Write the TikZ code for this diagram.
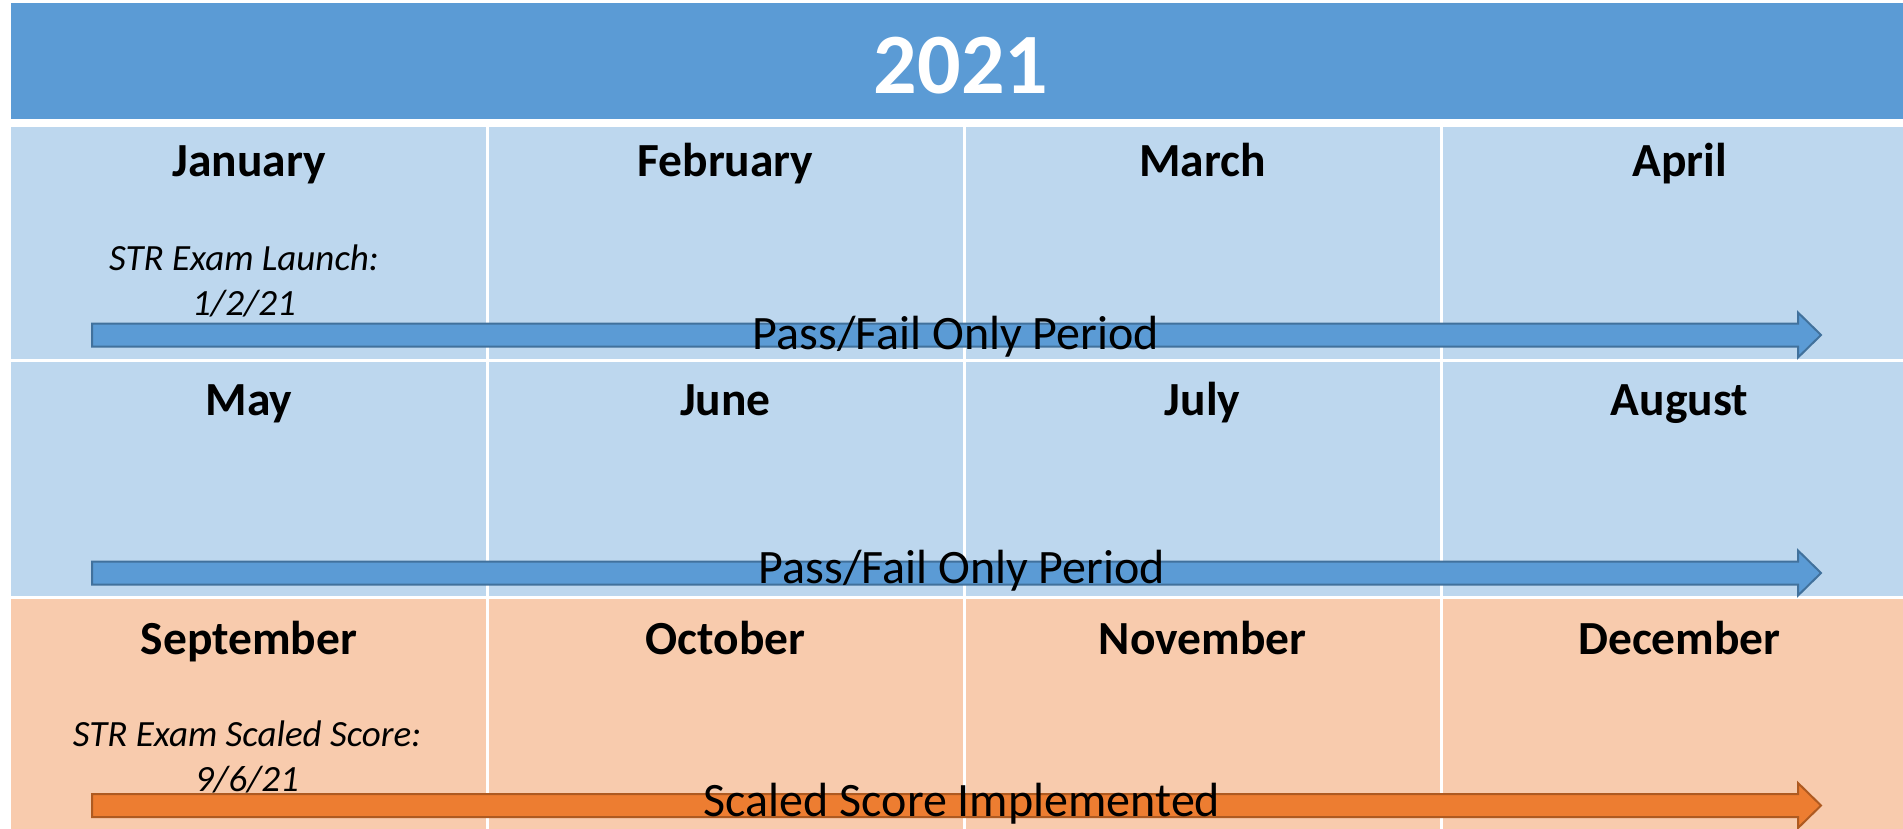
\documentclass[tikz,border=0pt]{standalone}
\usepackage{fontspec}
\setmainfont{Carlito}
\definecolor{hdrblue}{HTML}{5B9BD5}
\definecolor{cellblue}{HTML}{BDD7EE}
\definecolor{cellorange}{HTML}{F8CBAD}
\definecolor{arrblue}{HTML}{5B9BD5}
\definecolor{arrblueedge}{HTML}{41719C}
\definecolor{arrorange}{HTML}{ED7D31}
\definecolor{arrorangeedge}{HTML}{AE5A21}
\tikzset{
  month/.style={anchor=base, font=\fontsize{47.5}{56}\selectfont\bfseries, inner sep=0pt},
  note/.style={anchor=base, font=\fontsize{37}{45}\selectfont\itshape, inner sep=0pt, align=center},
  barlabel/.style={anchor=base, font=\fontsize{48}{56}\selectfont, inner sep=0pt},
  sep/.style={white, line width=3pt},
}
\newcommand{\blockarrow}[3]{% y-centre, fill, edge
  \fill[#2, draw=#3, line width=2pt]
    (92,#1-11.5) -- (1798,#1-11.5) -- (1798,#1-22.5) -- (1821,#1)
    -- (1798,#1+22.5) -- (1798,#1+11.5) -- (92,#1+11.5) -- cycle;}
\begin{document}
\begin{tikzpicture}[x=1pt,y=-1pt]
\useasboundingbox (0,0) rectangle (1903,829);
\clip (0,0) rectangle (1903,829);
\fill[white] (0,0) rectangle (1903,829);
% header
\fill[hdrblue] (11,3) rectangle (1920,119);
\node[anchor=base, text=white, font=\fontsize{86}{100}\selectfont\bfseries, inner sep=0pt] (year) at (961,94) {2021};
% cells
\fill[cellblue] (11,127) rectangle (1920,597);
\fill[cellorange] (11,597) rectangle (1920,840);
\draw[sep] (11,360.5) -- (1920,360.5);
\draw[sep] (11,597.5) -- (1920,597.5);
\foreach \xx in {487.5,964,1441}{\draw[sep] (\xx,127) -- (\xx,840);}
% month names
\node[month] (jan) at (249,177) {January};
\node[month] (feb) at (725.5,177) {February};
\node[month] (mar) at (1202.5,177) {March};
\node[month] (apr) at (1679.5,177) {April};
\node[month] (may) at (249,415) {May};
\node[month] (jun) at (725.5,415) {June};
\node[month] (jul) at (1202.5,415) {July};
\node[month] (aug) at (1679.5,415) {August};
\node[month] (sep) at (249,654) {September};
\node[month] (oct) at (725.5,654) {October};
\node[month] (nov) at (1202.5,654) {November};
\node[month] (dec) at (1679.5,654) {December};
% notes
\node[note] (n1) at (244,270) {STR Exam Launch:};
\node[note] (n1b) at (244,315) {1/2/21};
\node[note] (n3) at (247,746) {STR Exam Scaled Score:};
\node[note] (n3b) at (247,791) {9/6/21};
% arrows
\blockarrow{335}{arrblue}{arrblueedge}
\blockarrow{573}{arrblue}{arrblueedge}
\blockarrow{805.5}{arrorange}{arrorangeedge}
\node[barlabel] (p1) at (956,349) {Pass/Fail Only Period};
\node[barlabel] (p2) at (962,583) {Pass/Fail Only Period};
\node[barlabel] (p3) at (962,816) {Scaled Score Implemented};
\end{tikzpicture}
\end{document}
